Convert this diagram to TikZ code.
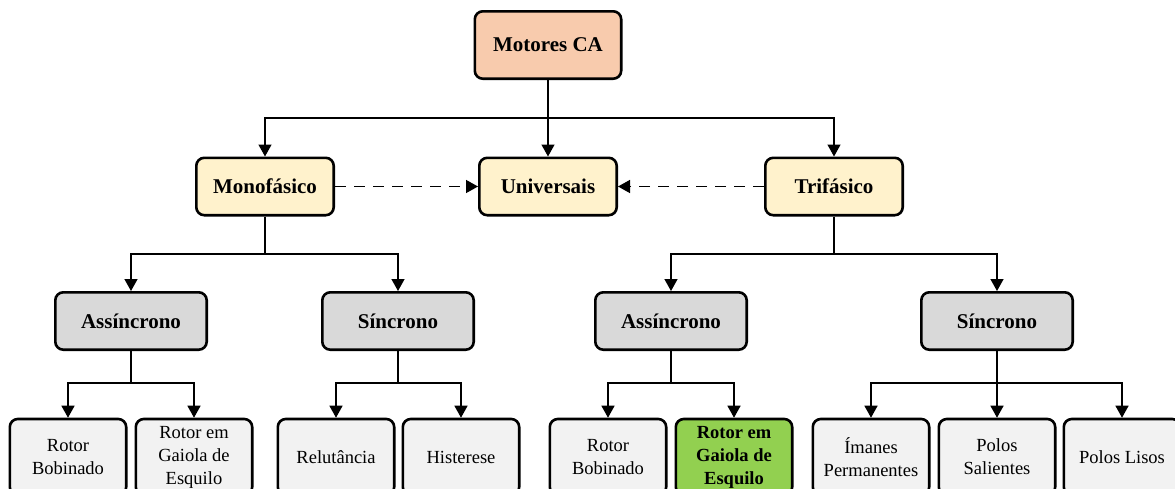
\documentclass[tikz,border=0pt]{standalone}
\usepackage{fontspec}
\setmainfont{Liberation Serif}
\usetikzlibrary{arrows.meta}
\definecolor{cTop}{HTML}{F8CBAD}
\definecolor{cMid}{HTML}{FFF2CC}
\definecolor{cLow}{HTML}{D9D9D9}
\definecolor{cLeaf}{HTML}{F2F2F2}
\definecolor{cGreen}{HTML}{92D050}
\begin{document}
\begin{tikzpicture}[x=1pt,y=-1pt,
 box/.style={draw=black, line width=2.6pt, rounded corners=8pt, align=center, inner sep=2pt},
 hdr/.style={box, font=\fontsize{21}{25}\selectfont\bfseries},
 topbox/.style={hdr, fill=cTop, minimum width=146.4pt, minimum height=67.4pt},
 midbox/.style={hdr, fill=cMid, minimum width=137.4pt, minimum height=57.4pt},
 lowbox/.style={hdr, fill=cLow, minimum width=151.4pt, minimum height=57.4pt},
 leafbox/.style={box, fill=cLeaf, minimum width=116.4pt, minimum height=76pt, font=\fontsize{18.5}{23}\selectfont},
 greenbox/.style={leafbox, fill=cGreen, font=\fontsize{18.5}{23}\selectfont\bfseries},
 line/.style={line width=1.4pt},
 conn/.style={line, -{Triangle[length=12pt,width=13pt]}},
 dconn/.style={conn, dash pattern=on 11pt off 8pt}
]
\useasboundingbox[fill=white] (0,0) rectangle (1175,488);

\node[topbox] (top) at (548,45) {Motores CA};
\node[midbox] (mono) at (265,186.5) {Monofásico};
\node[midbox] (univ) at (548,186.5) {Universais};
\node[midbox] (tri) at (834,186.5) {Trifásico};

\node[lowbox] (as1) at (131,321) {Assíncrono};
\node[lowbox] (sy1) at (398,321) {Síncrono};
\node[lowbox] (as2) at (671,321) {Assíncrono};
\node[lowbox] (sy2) at (997,321) {Síncrono};

\node[leafbox] (l1) at (68,457) {Rotor\\Bobinado};
\node[leafbox] (l2) at (194,457) {Rotor em\\Gaiola de\\Esquilo};
\node[leafbox] (l3) at (336,457) {Relutância};
\node[leafbox] (l4) at (461,457) {Histerese};
\node[leafbox] (l5) at (608,457) {Rotor\\Bobinado};
\node[greenbox] (l6) at (734,457) {Rotor em\\Gaiola de\\Esquilo};
\node[leafbox] (l7) at (871,457) {Ímanes\\Permanentes};
\node[leafbox] (l8) at (997,457) {Polos\\Salientes};
\node[leafbox] (l9) at (1122,457) {Polos Lisos};

\coordinate (j1) at (548,118);
\coordinate (j2) at (265,254);
\coordinate (j3) at (834,254);
\coordinate (j4) at (131,383);
\coordinate (j5) at (398,383);
\coordinate (j6) at (671,383);
\coordinate (j7) at (997,383);

\draw[line] (top.south) -- (j1);
\draw[conn] (j1) -| (mono.north);
\draw[conn] (j1) -- (univ.north);
\draw[conn] (j1) -| (tri.north);

\draw[dconn] (mono.east) -- (univ.west);
\draw[dconn] (tri.west) -- (univ.east);

\draw[line] (mono.south) -- (j2);
\draw[conn] (j2) -| (as1.north);
\draw[conn] (j2) -| (sy1.north);
\draw[line] (tri.south) -- (j3);
\draw[conn] (j3) -| (as2.north);
\draw[conn] (j3) -| (sy2.north);

\draw[line] (as1.south) -- (j4);
\draw[conn] (j4) -| (l1.north);
\draw[conn] (j4) -| (l2.north);
\draw[line] (sy1.south) -- (j5);
\draw[conn] (j5) -| (l3.north);
\draw[conn] (j5) -| (l4.north);
\draw[line] (as2.south) -- (j6);
\draw[conn] (j6) -| (l5.north);
\draw[conn] (j6) -| (l6.north);
\draw[line] (sy2.south) -- (j7);
\draw[conn] (j7) -| (l7.north);
\draw[conn] (j7) -- (l8.north);
\draw[conn] (j7) -| (l9.north);
\end{tikzpicture}
\end{document}
